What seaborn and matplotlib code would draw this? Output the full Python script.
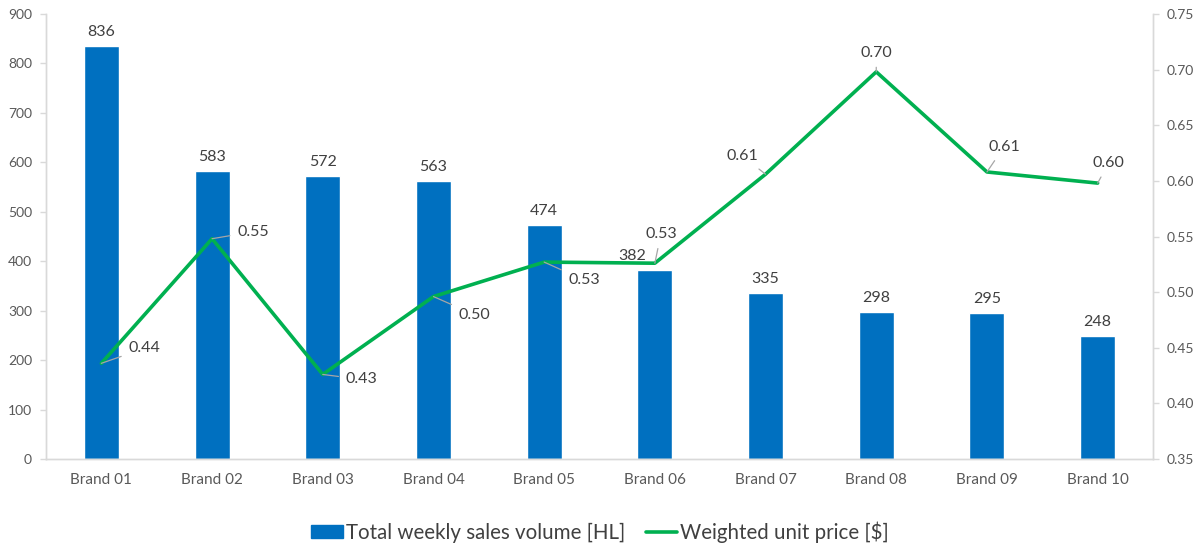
import matplotlib
matplotlib.use("Agg")
import matplotlib.pyplot as plt
import seaborn as sns
import numpy as np
import pandas as pd
from matplotlib.patches import Patch
from matplotlib.lines import Line2D

brands = ["Brand 01", "Brand 02", "Brand 03", "Brand 04", "Brand 05",
          "Brand 06", "Brand 07", "Brand 08", "Brand 09", "Brand 10"]
volume = [836, 583, 572, 563, 474, 382, 335, 298, 295, 248]
price = [0.436, 0.548, 0.426, 0.496, 0.527, 0.526, 0.606, 0.698, 0.608, 0.598]
left_ticks = [0, 100, 200, 300, 400, 500, 600, 700, 800, 900]
right_ticks = [0.35, 0.40, 0.45, 0.50, 0.55, 0.60, 0.65, 0.70, 0.75]
vol_name = "Total weekly sales volume [HL]"
price_name = "Weighted unit price [$]"

# label offsets (pixels) for price labels
price_offsets = [(43, 15), (41, 7), (39, -5), (41, -18), (40, -18),
                 (6, 29), (-23, 18), (0, 19), (17, 25), (11, 20)]
vol_offsets = {5: (-23, 0)}

sns.set_theme(style="white")
plt.rcParams['font.family'] = ['Lato', 'DejaVu Sans']

BAR = "#0070C0"
LINE = "#00B050"
TXT = "#404040"
TICK = "#595959"
AX = "#D9D9D9"

df = pd.DataFrame({"brand": brands, "volume": volume, "price": price})

fig = plt.figure(figsize=(12, 5.45), dpi=100)
ax = fig.add_axes([46/1200, 1-459/545, (1153-46)/1200, (459-14)/545])
sns.barplot(data=df, x="brand", y="volume", color=BAR, width=0.316,
            saturation=1, ax=ax)
ax.set_xlim(-0.5, len(brands) - 0.5)
ax.set_ylim(0, 900)
ax.set_yticks(left_ticks)
ax.set_xlabel("")
ax.set_ylabel("")

ax2 = ax.twinx()
sns.lineplot(x=np.arange(len(brands)), y=df["price"], color=LINE,
             linewidth=2.6, ax=ax2)
ax2.set_ylim(0.35, 0.75)
ax2.set_yticks(right_ticks)
ax2.set_yticklabels([f"{t:.2f}" for t in right_ticks])
ax2.set_ylabel("")

for a in (ax, ax2):
    for s in a.spines.values():
        s.set_color(AX)
        s.set_linewidth(1.0)
    a.spines["top"].set_visible(False)
    a.tick_params(colors=TICK, labelsize=10, length=4, width=1)
    a.tick_params(axis="y", color=AX)
    a.grid(False)
ax.tick_params(axis="x", length=0, labelsize=11, pad=10)
ax.tick_params(axis="y", pad=6)
ax2.tick_params(axis="y", pad=6)

# bar labels
for i, v in enumerate(volume):
    dx, dy = vol_offsets.get(i, (0, 0))
    ax.annotate(f"{v}", (i, v), xytext=(dx, 14 + dy), textcoords="offset pixels",
                ha="center", va="center", fontsize=11.5, color=TXT)

# price labels
for i, p in enumerate(price):
    dx, dy = price_offsets[i]
    ax2.annotate(f"{p:.2f}", (i, p), xytext=(dx, dy), textcoords="offset pixels",
                 ha="center", va="center", fontsize=11.5, color=TXT,
                 arrowprops=dict(arrowstyle="-", color="#A6A6A6", lw=0.9,
                                 shrinkA=3, shrinkB=0))

handles = [Patch(facecolor=BAR, edgecolor=BAR),
           Line2D([0], [0], color=LINE, linewidth=2.6)]
fig.legend(handles, [vol_name, price_name], loc="center",
           bbox_to_anchor=(0.5, 1 - 532/545), ncol=2, frameon=False,
           fontsize=14.8, labelcolor=TXT, handlelength=1.55, handletextpad=0.15,
           columnspacing=1.0, handleheight=0.6)

fig.savefig("out.png", dpi=100)
